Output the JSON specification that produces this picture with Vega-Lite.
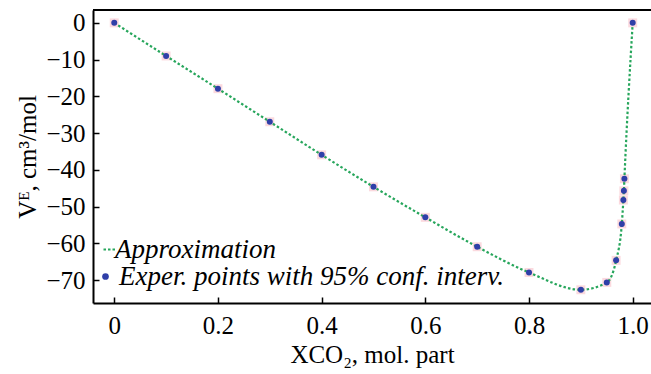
{
  "$schema": "https://vega.github.io/schema/vega-lite/v6.json",
  "width": 558,
  "height": 293,
  "autosize": {"type": "none"},
  "padding": {"left": 93, "top": 10, "right": 0, "bottom": 71},
  "background": "white",
  "config": {
    "view": {"stroke": null},
    "font": "Liberation Serif",
    "axis": {
      "labelFont": "Liberation Serif",
      "titleFont": "Liberation Serif",
      "labelFontSize": 25,
      "titleFontSize": 25,
      "titleFontWeight": "normal",
      "labelColor": "black",
      "titleColor": "black",
      "grid": false,
      "domainColor": "black",
      "domainWidth": 2,
      "tickColor": "black",
      "tickWidth": 1.5,
      "tickSize": -6
    },
    "legend": {
      "labelFont": "Liberation Serif",
      "labelFontSize": 27,
      "labelFontStyle": "italic",
      "labelColor": "black",
      "labelLimit": 0,
      "padding": 0,
      "orient": "none"
    }
  },
  "data": {
    "values": [
      {"x": 0, "y": 0},
      {"x": 0.1, "y": -9.0},
      {"x": 0.2, "y": -17.9},
      {"x": 0.3, "y": -26.9},
      {"x": 0.4, "y": -35.9},
      {"x": 0.5, "y": -44.6},
      {"x": 0.6, "y": -52.9},
      {"x": 0.7, "y": -60.9},
      {"x": 0.8, "y": -67.9},
      {"x": 0.9, "y": -72.6},
      {"x": 0.95, "y": -70.6},
      {"x": 0.968, "y": -64.6},
      {"x": 0.979, "y": -54.7},
      {"x": 0.982, "y": -48.2},
      {"x": 0.983, "y": -45.7},
      {"x": 0.984, "y": -42.4},
      {"x": 1.0, "y": 0}
    ]
  },
  "encoding": {
    "x": {
      "field": "x",
      "type": "quantitative",
      "scale": {"domain": [-0.041, 1.0353], "nice": false, "zero": false},
      "axis": {
        "values": [0, 0.2, 0.4, 0.6, 0.8, 1.0],
        "labelExpr": "datum.value == 0 ? '0' : format(datum.value, '.1f')",
        "labelPadding": 16,
        "title": "XCO₂, mol. part",
        "titlePadding": 4
      }
    },
    "y": {
      "field": "y",
      "type": "quantitative",
      "scale": {"domain": [-76.2, 3.5], "nice": false, "zero": false},
      "axis": {
        "values": [0, -10, -20, -30, -40, -50, -60, -70],
        "labelPadding": 14,
        "title": "Vᴱ, cm³/mol",
        "titlePadding": 5
      }
    }
  },
  "layer": [
    {
      "mark": {"type": "rule", "color": "black", "strokeWidth": 2},
      "encoding": {"y": {"datum": 3.5}, "x": null}
    },
    {
      "mark": {"type": "point", "shape": "square", "filled": true, "color": "#f7b9c2", "opacity": 0.55, "size": 80},
      "encoding": {}
    },
    {
      "mark": {"type": "line", "interpolate": "monotone", "strokeWidth": 2.2, "strokeDash": [2.5, 2.2]},
      "encoding": {
        "color": {
          "datum": "Approximation",
          "scale": {"domain": ["Approximation"], "range": ["#27a65c"]},
          "legend": {
            "title": null,
            "legendX": 3,
            "legendY": 226,
            "symbolType": "stroke",
            "symbolSize": 144,
            "symbolDash": [2.5, 2],
            "symbolStrokeWidth": 2,
            "labelOffset": -8
          }
        }
      }
    },
    {
      "mark": {"type": "point", "filled": true, "color": "#2f3fa8", "opacity": 1, "size": 36},
      "encoding": {
        "shape": {
          "datum": "Exper. points with 95% conf. interv.",
          "scale": {"domain": ["Exper. points with 95% conf. interv."], "range": ["circle"]},
          "legend": {
            "title": null,
            "legendX": -1,
            "legendY": 253,
            "symbolSize": 45,
            "symbolFillColor": "#2f3fa8",
            "symbolStrokeColor": "#e8343c",
            "symbolStrokeWidth": 1.5,
            "labelOffset": 0
          }
        }
      }
    }
  ]
}
